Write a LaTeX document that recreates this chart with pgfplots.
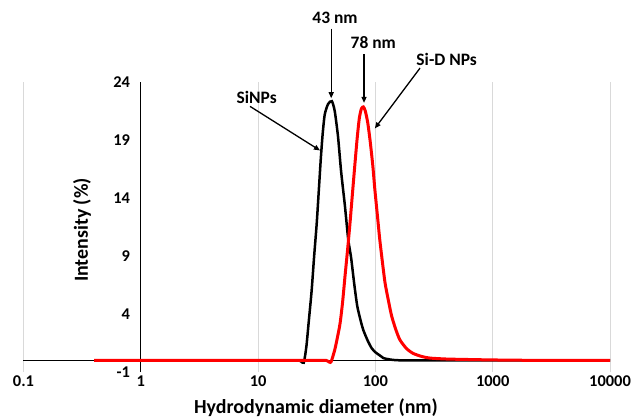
\documentclass[border=0pt]{standalone}
\usepackage{fontspec}
\setmainfont{Carlito}
\usepackage{pgfplots}
\pgfplotsset{compat=1.18}
\usetikzlibrary{arrows.meta}
\definecolor{gridgray}{RGB}{217,217,217}

\pgfplotstableread{
x y
0.4 0
1 0
10 0
20 0
23 -0.05
24.5 -0.2
25.8 1.2
27 3.3
28.6 6.0
30 8.9
31.6 11.8
33 14.8
34.2 17.3
35.5 19.5
37 21.2
39.5 22.1
42.5 22.35
45 21.5
48 19.3
51 16.3
55 13.3
58.7 10.4
62 8.9
66 6.6
70 4.7
75 3.4
79 2.6
86 1.7
93 1.05
100 0.7
110 0.4
117 0.2
133 0.08
150 0.02
200 0
1000 0
10000 0
}\sinps

\pgfplotstableread{
x y
0.4 0
10 0
30 0
38 0
40.5 -0.15
42 -0.1
45 0.9
47.5 2.0
50 3.2
52.5 5.0
55 7.2
58 9.6
60.7 11.8
64 14.6
67 17.0
70 19.2
73 20.9
76 21.7
79 21.85
82 21.5
86 20.5
90 19.0
95 16.8
99 14.7
104 12.5
109 10.4
115 8.4
121 6.65
130 5.0
138 3.77
150 2.6
162 1.76
185 1.0
210 0.6
250 0.33
292 0.2
400 0.12
600 0.08
1000 0.04
2000 0.01
10000 0
}\sidnps

\begin{document}
\begin{tikzpicture}[font=\fontsize{16.5}{19}\selectfont\bfseries]
\useasboundingbox (-23.5bp,-48bp) rectangle (610.5bp,372bp);
\begin{axis}[
    at={(0,0)}, anchor=south west,
    scale only axis,
    width=586.5bp, height=290bp,
    xmode=log,
    xmin=0.1, xmax=10000,
    ymin=-1, ymax=24,
    xtick={0.1,1,10,100,1000,10000},
    xticklabels={0.1,1,10,100,1000,10000},
    ytick={-1,4,9,14,19,24},
    yticklabels={-1,4,9,14,19,24},
    xminorticks=false,
    major tick length=0pt,
    xmajorgrids,
    grid style={gridgray, line width=1bp},
    axis line style={draw=none},
    yticklabel style={xshift=110bp},
    clip=false,
]
\draw[black, line width=0.8bp] (axis cs:0.1,0) -- (axis cs:10000,0);
\draw[black, line width=0.8bp] (axis cs:1,-1) -- (axis cs:1,24);

\addplot[black, line width=2.5bp, smooth, tension=0.4] table {\sinps};
\addplot[red, line width=3bp, smooth, tension=0.4] table {\sidnps};

% annotations
\begin{scope}[font=\fontsize{17.5}{20}\selectfont\bfseries]
\node at (axis cs:45.3,29.5) {43 nm};
\node at (axis cs:96,27.4) {78 nm};
\node at (axis cs:405,25.96) {Si-D NPs};
\node at (axis cs:9.73,22.7) {SiNPs};
\end{scope}
\draw[-{Triangle[length=6bp,width=5bp]}, line width=1.3bp] (axis cs:42,28.6) -- (axis cs:42,22.6);
\draw[-{Triangle[length=6bp,width=5bp]}, line width=1.3bp] (axis cs:80,26.4) -- (axis cs:80,22.2);
\draw[-{Triangle[length=6bp,width=5bp]}, line width=1.3bp] (axis cs:240,25.2) -- (axis cs:99,20.0);
\draw[-{Triangle[length=6bp,width=5bp]}, line width=1.3bp] (axis cs:8.53,21.9) -- (axis cs:33.7,18.1);

\node[rotate=90, font=\fontsize{20}{23}\selectfont\bfseries] at (axis cs:0.315,11.24) {Intensity (\%)};
\node[font=\fontsize{20}{23}\selectfont\bfseries] at (rel axis cs:0.4987,0) [yshift=-36bp] {Hydrodynamic diameter (nm)};
\end{axis}
\end{tikzpicture}
\end{document}
